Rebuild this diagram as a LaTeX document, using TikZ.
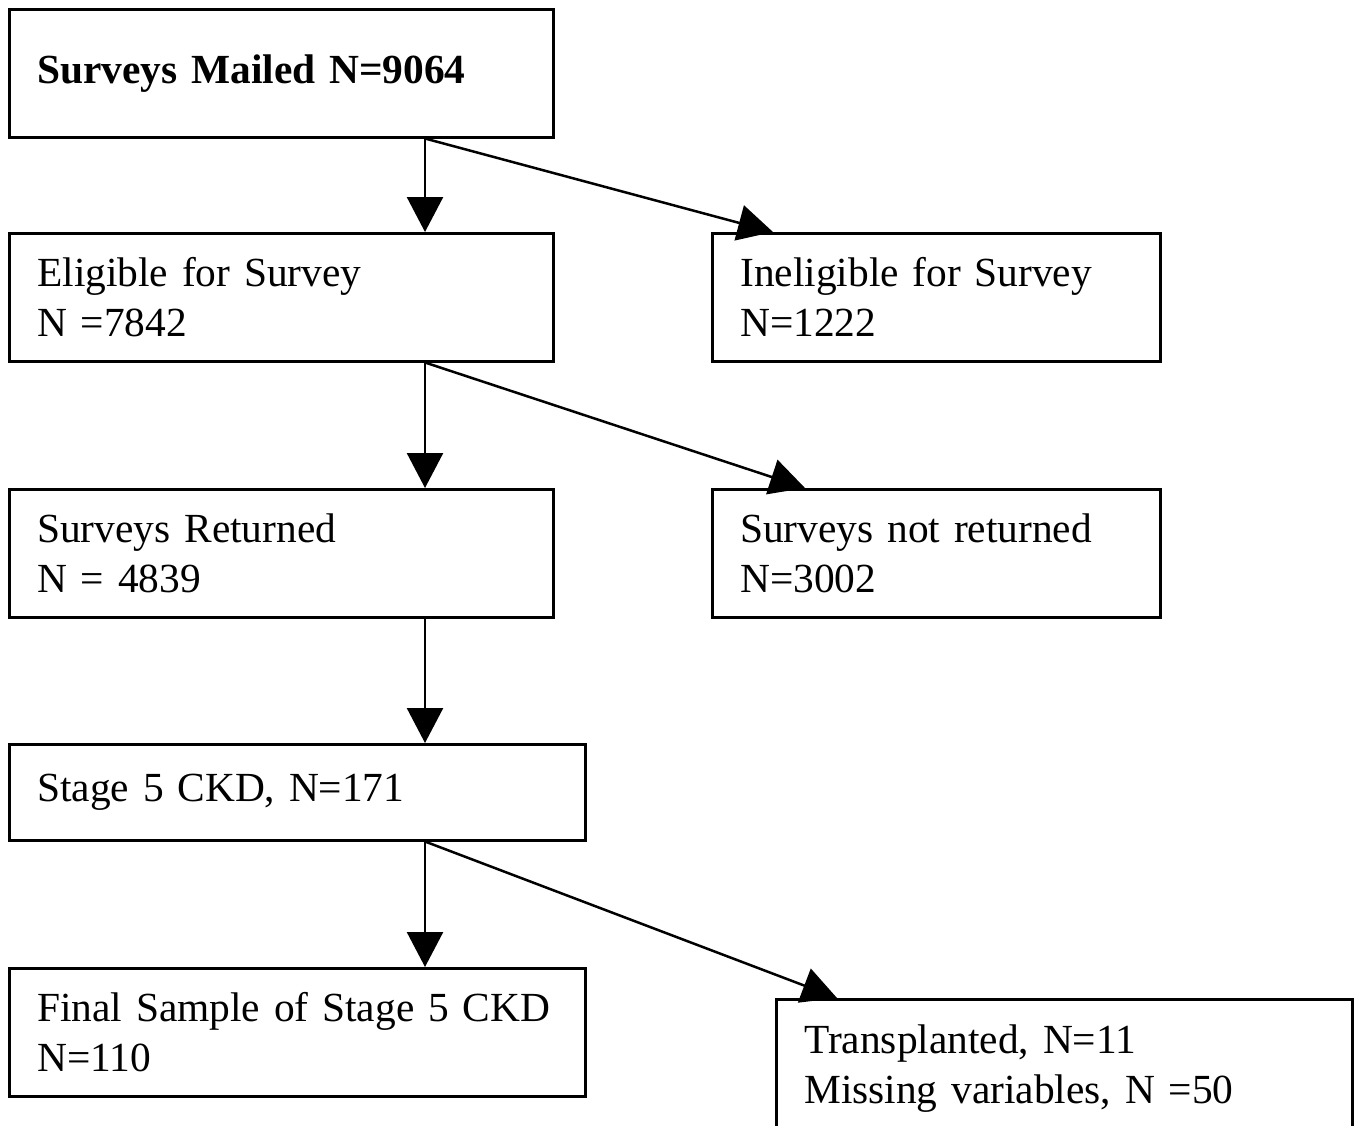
\documentclass[tikz,border=0pt]{standalone}
\usepackage{fontspec}
\setmainfont{Liberation Serif}
\usepackage{tikz}
\usetikzlibrary{arrows.meta}

\newcommand{\ind}{\hspace*{14pt}}

\begin{document}
\begin{tikzpicture}[x=0.5pt,y=-0.5pt,
  box/.style={draw, line width=1.25pt, rectangle, anchor=north west, align=left,
    inner xsep=0pt, inner ysep=0pt, font=\fontsize{20.7}{25}\selectfont},
  wide/.style={box, text width=272pt, minimum height=64pt},
  side/.style={box, text width=224pt, minimum height=64pt},
  big/.style={box, text width=288pt, minimum height=64pt},
  arr/.style={line width=1.25pt, -{Triangle[length=17.5pt,width=18pt]}}]
\useasboundingbox (0,0) rectangle (1359,1125);
% boxes
\node[wide] (mailed) at (8,8) {\ind\textbf{Surveys Mailed N=9064}};
\node[wide] (elig) at (8,232) {\ind Eligible for Survey\\\ind N =7842};
\node[side] (inelig) at (711,232) {\ind Ineligible for Survey\\\ind N=1222};
\node[wide] (ret) at (8,488) {\ind Surveys Returned\\\ind N = 4839};
\node[side] (notret) at (711,488) {\ind Surveys not returned\\\ind N=3002};
\node[big, minimum height=48pt] (ckd) at (8,743) {\ind Stage 5 CKD, N=171};
\node[big] (final) at (8,967) {\ind Final Sample of Stage 5 CKD\\\ind N=110};
\node[big, minimum height=69pt] (trans) at (775,998) {\ind Transplanted, N=11\\\ind Missing variables, N =50};
% arrows
\draw[arr] ([xshift=208.5pt]mailed.south west) -- ([xshift=208.5pt]elig.north west);
\draw[arr] ([xshift=208.5pt]mailed.south west) -- ([xshift=31pt]inelig.north west);
\draw[arr] ([xshift=208.5pt]elig.south west) -- ([xshift=208.5pt]ret.north west);
\draw[arr] ([xshift=208.5pt]elig.south west) -- ([xshift=47pt]notret.north west);
\draw[arr] ([xshift=208.5pt]ret.south west) -- ([xshift=208.5pt]ckd.north west);
\draw[arr] ([xshift=208.5pt]ckd.south west) -- ([xshift=208.5pt]final.north west);
\draw[arr] ([xshift=208.5pt]ckd.south west) -- ([xshift=31pt]trans.north west);
\end{tikzpicture}
\end{document}
